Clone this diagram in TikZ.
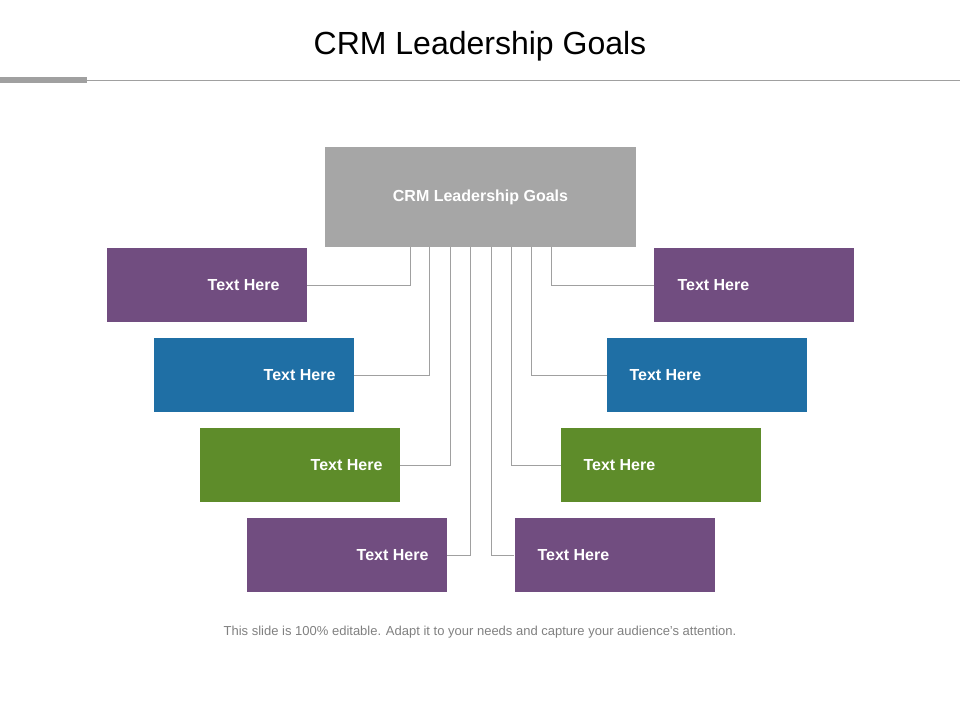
\documentclass[tikz,border=0pt]{standalone}
\usepackage{fontspec}
\setmainfont{Liberation Sans}
\definecolor{gbox}{HTML}{A6A6A6}
\definecolor{pur}{HTML}{714D80}
\definecolor{blu}{HTML}{1F6FA5}
\definecolor{grn}{HTML}{5E8C2A}
\definecolor{ln}{HTML}{A0A0A0}
\begin{document}
\begin{tikzpicture}[x=1pt,y=-1pt,
  bx/.style={minimum width=200pt,minimum height=74pt,inner sep=0pt},
  lt/.style={font=\bfseries\fontsize{16}{18}\selectfont,text=white},
  con/.style={draw=ln,line width=0.8pt}]
\useasboundingbox (0,0) rectangle (960,720);
\node[font=\fontsize{32}{36}\selectfont] (title) at (480,46) {CRM Leadership Goals};
\draw[ln,line width=0.8pt] (0,80) -- (960,80);
\fill[ln] (0,77) rectangle (87,83);
\node[fill=gbox,minimum width=311pt,minimum height=100pt,inner sep=0pt,lt] (top) at (480.5,197) {CRM Leadership Goals};
% left
\node[bx,fill=pur] (l1) at (207,285) {}; \node[lt,anchor=east] at (283,285) {Text Here};
\node[bx,fill=blu] (l2) at (254,375) {}; \node[lt,anchor=east] at (339,375) {Text Here};
\node[bx,fill=grn] (l3) at (300,465) {}; \node[lt,anchor=east] at (386,465) {Text Here};
\node[bx,fill=pur] (l4) at (346.5,555) {}; \node[lt,anchor=east] at (432,555) {Text Here};
% right
\node[bx,fill=pur] (r1) at (754,285) {}; \node[lt,anchor=west] at (674,285) {Text Here};
\node[bx,fill=blu] (r2) at (707,375) {}; \node[lt,anchor=west] at (626,375) {Text Here};
\node[bx,fill=grn] (r3) at (661,465) {}; \node[lt,anchor=west] at (580,465) {Text Here};
\node[bx,fill=pur] (r4) at (614.5,555) {}; \node[lt,anchor=west] at (534,555) {Text Here};
% connectors
\draw[con] (top.south -| 410,0) |- (l1.east);
\draw[con] (top.south -| 429,0) |- (l2.east);
\draw[con] (top.south -| 450,0) |- (l3.east);
\draw[con] (top.south -| 470,0) |- (l4.east);
\draw[con] (top.south -| 551,0) |- (r1.west);
\draw[con] (top.south -| 531,0) |- (r2.west);
\draw[con] (top.south -| 511,0) |- (r3.west);
\draw[con] (top.south -| 491,0) |- (r4.west);
\node[font=\fontsize{13}{15}\selectfont,text=gray] (foot) at (480,632) {This slide is 100\% editable. Adapt it to your needs and capture your audience's attention.};
\end{tikzpicture}
\end{document}
